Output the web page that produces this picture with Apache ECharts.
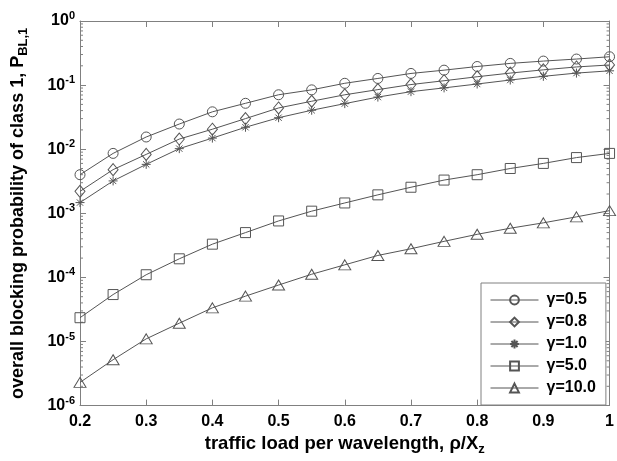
<!DOCTYPE html>
<html style="height: 100%">
  <head>
    <meta charset="utf-8" />
    <title>blocking probability</title>
  </head>
  <body style="height: 100%; margin: 0; background: #fff">
    <div id="container" style="width: 617px; height: 461px"></div>

    <script
      type="text/javascript"
      src="https://fastly.jsdelivr.net/npm/echarts@6/dist/echarts.min.js"
    ></script>

    <script type="text/javascript">
      var FONT = "Liberation Sans, Arial, sans-serif";
      var LINE = "#555";
      var FRAME = "#808080";

      // traffic load per wavelength
      var loads = [0.2, 0.25, 0.3, 0.35, 0.4, 0.45, 0.5, 0.55, 0.6, 0.65, 0.7, 0.75, 0.8, 0.85, 0.9, 0.95, 1.0];

      var names = ["γ=0.5", "γ=0.8", "γ=1.0", "γ=5.0", "γ=10.0"];

      var g05 = [0.0040, 0.0086, 0.0155, 0.0247, 0.0383, 0.052, 0.0707, 0.0843, 0.1067, 0.127, 0.152, 0.171, 0.195, 0.218, 0.237, 0.255, 0.277];
      var g08 = [0.0022, 0.0048, 0.0083, 0.0144, 0.0205, 0.030, 0.044, 0.056, 0.0706, 0.085, 0.102, 0.117, 0.135, 0.154, 0.173, 0.192, 0.206];
      var g10 = [0.00147, 0.0032, 0.0058, 0.0102, 0.0149, 0.022, 0.031, 0.0405, 0.0514, 0.065, 0.079, 0.0905, 0.104, 0.12, 0.137, 0.154, 0.167];
      var g50 = [2.35e-5, 5.4e-5, 1.1e-4, 1.95e-4, 3.3e-4, 5.0e-4, 7.6e-4, 1.08e-3, 1.45e-3, 1.94e-3, 2.55e-3, 3.3e-3, 4.0e-3, 5.0e-3, 6.0e-3, 7.4e-3, 8.6e-3];
      var g100 = [2.3e-6, 5.2e-6, 1.1e-5, 1.93e-5, 3.35e-5, 5.1e-5, 7.6e-5, 1.12e-4, 1.57e-4, 2.2e-4, 2.8e-4, 3.65e-4, 4.7e-4, 5.85e-4, 7.1e-4, 8.8e-4, 1.1e-3];

      var values = [g05, g08, g10, g50, g100];

      var starPath = "path://M0,5L10,5M5,0L5,10M1.5,1.5L8.5,8.5M8.5,1.5L1.5,8.5";
      var symbols = ["circle", "diamond", starPath, "rect", "triangle"];
      var sizes = [10, [10, 12], 9, 10, [12, 10]];

      // minor ticks of the log axis (2..9 in every decade)
      var minorVals = [];
      for (var d = -6; d < 0; d++) {
        for (var k = 2; k <= 9; k++) minorVals.push(k * Math.pow(10, d));
      }

      var dom = document.getElementById("container");
      var myChart = echarts.init(dom, null, { renderer: "canvas" });

      var series = values.map(function (vals, i) {
        return {
          name: names[i],
          type: "line",
          data: loads.map(function (x, j) {
            return [x, vals[j]];
          }),
          symbol: symbols[i],
          symbolSize: sizes[i],
          showAllSymbol: true,
          lineStyle: { color: LINE, width: 1 },
          itemStyle: { color: "rgba(0,0,0,0)", borderColor: LINE, borderWidth: 1 },
          emphasis: { disabled: true },
          z: 3,
        };
      });

      series.push({
        type: "custom",
        silent: true,
        data: minorVals.map(function (v) {
          return [0.2, v];
        }),
        renderItem: function (params, api) {
          var v = api.value(1);
          var l = api.coord([0.2, v]);
          var r = api.coord([1.0, v]);
          var st = { stroke: FRAME, lineWidth: 1 };
          return {
            type: "group",
            children: [
              { type: "line", shape: { x1: l[0], y1: l[1], x2: l[0] + 3, y2: l[1] }, style: st },
              { type: "line", shape: { x1: r[0], y1: r[1], x2: r[0] - 3, y2: r[1] }, style: st },
            ],
          };
        },
        z: 2,
      });

      var option = {
        animation: false,
        backgroundColor: "#fff",
        textStyle: { fontFamily: FONT },
        grid: { left: 80, right: 4, top: 21, bottom: 49 },
        legend: {
          data: names,
          orient: "vertical",
          left: 481,
          top: 283,
          width: 121,
          padding: [9, 10, 9, 9],
          itemGap: 6,
          itemWidth: 48,
          itemHeight: 11,
          backgroundColor: "#fff",
          borderColor: FRAME,
          borderWidth: 1,
          borderRadius: 0,
          selectedMode: false,
          lineStyle: { width: 1, color: LINE },
          textStyle: { fontFamily: FONT, fontWeight: "bold", fontSize: 16, color: "#000", padding: [0, 0, 0, 3] },
        },
        xAxis: [
          {
            type: "value",
            min: 0.2,
            max: 1,
            interval: 0.1,
            name: "{a|traffic load per wavelength, ρ/X}{s|z}",
            nameLocation: "middle",
            nameGap: 21,
            nameTextStyle: {
              rich: {
                a: { fontFamily: FONT, fontWeight: "bold", fontSize: 18.5, color: "#000" },
                s: { fontFamily: FONT, fontWeight: "bold", fontSize: 13, color: "#000", padding: [11, 0, 0, 0] },
              },
            },
            axisLine: { onZero: false, lineStyle: { color: FRAME } },
            axisTick: { inside: true, length: 6, lineStyle: { color: FRAME } },
            splitLine: { show: false },
            axisLabel: {
              margin: 8,
              fontFamily: FONT,
              fontWeight: "bold",
              fontSize: 16,
              color: "#000",
              formatter: function (v) {
                return v >= 0.999 ? "1" : v.toFixed(1);
              },
            },
          },
          {
            type: "value",
            position: "top",
            min: 0.2,
            max: 1,
            interval: 0.1,
            axisLine: { onZero: false, lineStyle: { color: FRAME } },
            axisTick: { inside: true, length: 6, lineStyle: { color: FRAME } },
            axisLabel: { show: false },
            splitLine: { show: false },
          },
        ],
        yAxis: [
          {
            type: "log",
            logBase: 10,
            min: 1e-6,
            max: 1,
            name: "{a|overall blocking probability of class 1, P}{s|BL,1}",
            nameLocation: "middle",
            nameGap: 50,
            nameTextStyle: {
              rich: {
                a: { fontFamily: FONT, fontWeight: "bold", fontSize: 18, color: "#000" },
                s: { fontFamily: FONT, fontWeight: "bold", fontSize: 13, color: "#000", padding: [11, 0, 0, 0] },
              },
            },
            axisLine: { onZero: false, lineStyle: { color: FRAME } },
            axisTick: { inside: true, length: 6, lineStyle: { color: FRAME } },
            splitLine: { show: false },
            axisLabel: {
              margin: 5,
              formatter: function (v) {
                var e = Math.round(Math.log10(v));
                return "{b|10}{s|" + e + "}";
              },
              rich: {
                b: { fontFamily: FONT, fontWeight: "bold", fontSize: 16, color: "#000" },
                s: { fontFamily: FONT, fontWeight: "bold", fontSize: 11, color: "#000", padding: [0, 0, 10, 0] },
              },
            },
          },
          {
            type: "log",
            logBase: 10,
            min: 1e-6,
            max: 1,
            position: "right",
            axisLine: { onZero: false, lineStyle: { color: FRAME } },
            axisTick: { inside: true, length: 6, lineStyle: { color: FRAME } },
            axisLabel: { show: false },
            splitLine: { show: false },
          },
        ],
        series: series,
      };

      myChart.setOption(option);
      window.addEventListener("resize", myChart.resize);
    </script>
  </body>
</html>
